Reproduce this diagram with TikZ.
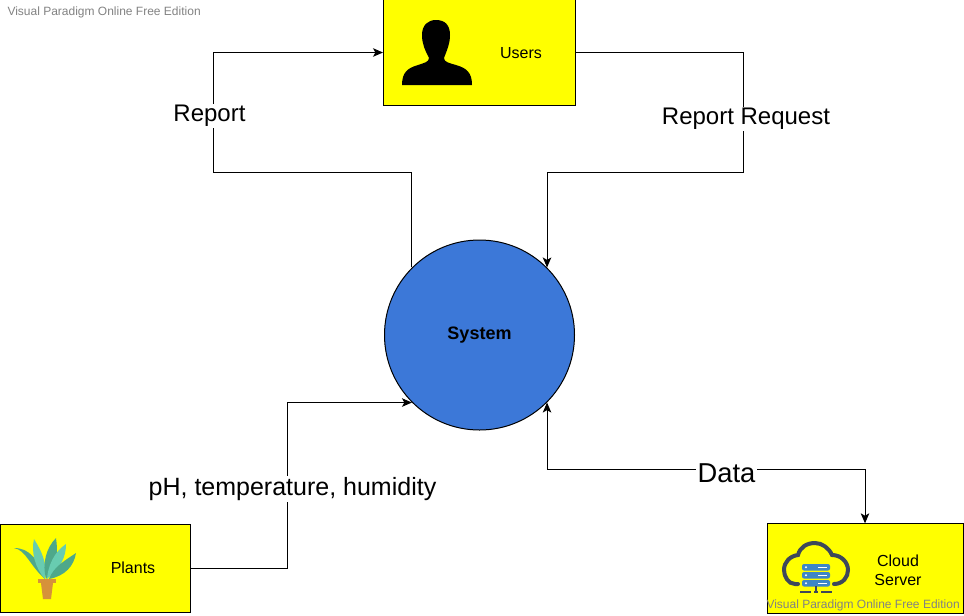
\documentclass[tikz,border=0pt]{standalone}
\usepackage{fontspec}
\setmainfont{Liberation Sans}
\usepackage{xcolor}
\usetikzlibrary{arrows.meta}
\definecolor{boxyellow}{RGB}{255,255,0}
\definecolor{sysblue}{RGB}{60,120,216}
\definecolor{markgray}{RGB}{130,130,130}
\definecolor{leafdark}{RGB}{78,168,138}
\definecolor{leaflight}{RGB}{104,204,176}
\definecolor{potbrown}{RGB}{214,146,58}
\definecolor{clouddark}{RGB}{62,72,90}
\definecolor{rackblue}{RGB}{62,134,198}

\begin{document}
\begin{tikzpicture}[x=0.75pt,y=-0.75pt,>={Stealth[length=7.5pt,width=6.4pt,inset=1.8pt]},line width=0.75pt]
  \tikzstyle{entity}=[draw=black,fill=boxyellow,inner sep=0pt,font=\fontsize{12}{14}\selectfont]
  \tikzstyle{process}=[circle,draw=black,fill=sysblue,inner sep=0pt,minimum size=142.5pt,
                       font=\fontsize{13.5}{16}\selectfont\bfseries]
  \tikzstyle{flow}=[draw=black]
  \tikzstyle{flowlabel}=[fill=white,inner sep=1pt,font=\fontsize{18}{21}\selectfont]
  \tikzstyle{caption}=[font=\fontsize{12}{14}\selectfont,align=center,inner sep=0pt]
  \tikzstyle{watermark}=[text=markgray,inner sep=0pt,font=\fontsize{9}{11}\selectfont]

  \useasboundingbox (0,0) rectangle (964,615);

  \node[entity,minimum width=144pt,minimum height=79pt]     (users)  at (479.5,52.5) {};
  \node[entity,minimum width=142pt,minimum height=66pt]     (plants) at (95.5,568) {};
  \node[entity,minimum width=147pt,minimum height=67pt]     (cloud)  at (865,568.5) {};
  \node[process]                                            (system) at (479.5,335) {\raisebox{-1.4pt}{System}};

  \node[caption] (usersText)  at (521,53.5)  {Users};
  \node[caption] (plantsText) at (133,568) {Plants};
  \node[caption] (cloudText)  at (898,570) {Cloud\\Server};

  % person
  \fill[black] (402,85) .. controls (402,72) and (408,68) .. (418,65)
    .. controls (424,63) and (429,62) .. (429,58)
    .. controls (425,50) and (422,44) .. (422,35)
    .. controls (422,25) and (428,20) .. (436,20)
    .. controls (445,20) and (450,25) .. (450,35)
    .. controls (450,44) and (447,50) .. (444,58)
    .. controls (444,62) and (449,63) .. (456,65)
    .. controls (466,68) and (472,72) .. (472,85) -- cycle;

  % plant
  \fill[leafdark]  (45,579) .. controls (38,560) and (30,548) .. (14,548)
    .. controls (26,550) and (30,566) .. (45,579);
  \fill[leaflight] (45,579) .. controls (47,562) and (42,552) .. (34,539)
    .. controls (31,552) and (35,568) .. (45,579);
  \fill[leafdark]  (46,579) .. controls (58,565) and (58,552) .. (56,538)
    .. controls (46,548) and (42,564) .. (46,579);
  \fill[leaflight] (47,579) .. controls (60,568) and (66,558) .. (66,544)
    .. controls (54,552) and (48,566) .. (47,579);
  \fill[leafdark]  (49,579) .. controls (65,576) and (74,566) .. (76,553)
    .. controls (66,560) and (54,566) .. (49,579);
  \fill[potbrown] (38,579) rectangle (56,583);
  \fill[potbrown] (41,583) -- (53,583) -- (51,599) -- (43,599) -- cycle;

  % cloud server
  \draw[clouddark,line width=3pt,line cap=round] (798,584) -- (795,584)
    .. controls (788,584) and (784,576) .. (784,570)
    .. controls (784,562) and (790,556) .. (798,555)
    .. controls (800,547) and (807,543) .. (815,543)
    .. controls (822,543) and (829,548) .. (832,555)
    .. controls (841,555) and (848,562) .. (848,570)
    .. controls (848,577) and (843,584) .. (834,584);
  \foreach \rackY in {564,572,580}
  {
    \fill[rackblue,rounded corners=1.5pt] (802,\rackY) rectangle (830,\rackY+6.5);
    \fill[white] (806,\rackY+3.2) circle (1.1);
    \fill[white] (818,\rackY+2.6) rectangle (827,\rackY+3.9);
  }
  \draw[clouddark,line width=1.2pt] (816,586) -- (816,592);
  \draw[clouddark,line width=1.2pt] (800,592) -- (811,592) (814,592) -- (818,592) (821,592) -- (832,592);

  % connectors
  \draw[flow,->] (system.135) |- (213,172) |- (users.west);
  \node[flowlabel] (reportLabel) at (209.5,116) {Report};
  \draw[flow,->] (users.east) -| (743,172) -| (system.45);
  \node[flowlabel] (requestLabel) at (746,119) {Report Request};
  \draw[flow,->] (plants.east) -| (287.5,403) |- (system.225);
  \node[flowlabel,font=\fontsize{18.75}{21}\selectfont] (sensorLabel) at (292.5,489) {pH, temperature, humidity};
  \draw[flow,<->] (system.315) |- (865,469) -- (cloud.north);
  \node[flowlabel,font=\fontsize{20.5}{24}\selectfont] (dataLabel) at (726.5,473) {Data};

  % watermarks
  \node[watermark,anchor=west] (markTop)    at (7,12)    {Visual Paradigm Online Free Edition};
  \node[watermark,anchor=west] (markBottom) at (766,605) {Visual Paradigm Online Free Edition};
\end{tikzpicture}
\end{document}
